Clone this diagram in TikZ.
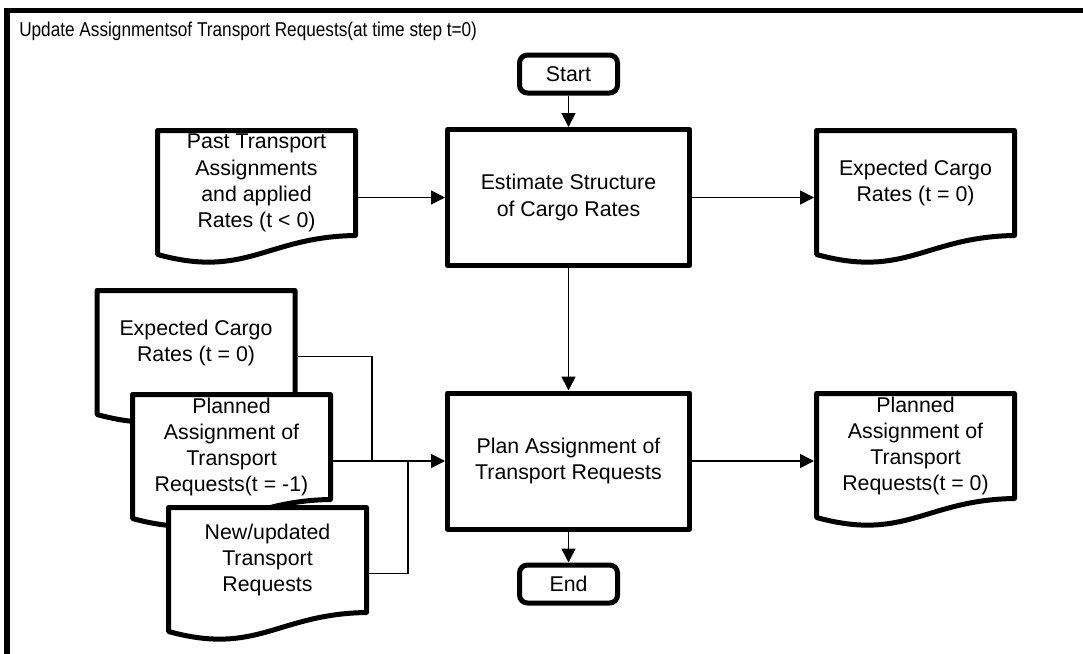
\documentclass[tikz,border=0pt]{standalone}
\usepackage{fontspec}
\setmainfont{Liberation Sans}
\newfontfamily\titlefont[FakeStretch=0.86]{Liberation Sans}
\usetikzlibrary{arrows.meta,calc}
\newcommand\docshape[4]{%
  \filldraw[docline] ({#2-99},{#3-52.5}) -- ({#2+99},{#3-52.5}) -- ({#2+99},{#3+52.5})
    .. controls ({#2+9.9},{#3+53.8}) and ({#2-9.9},{#3+96}) .. ({#2-99},{#3+71.5}) -- cycle;
  \node[doctext] (#1) at (#2,#3) {#4};}
\tikzset{
  thick line/.style={line width=3.75pt, line join=round},
  docline/.style={thick line, draw=black, fill=white},
  bodyfont/.style={font=\fontsize{16}{19.7}\selectfont},
  doctext/.style={draw=none, minimum width=198*0.75pt, minimum height=105*0.75pt,
    outer sep=1.875pt, align=center, inner sep=0pt, bodyfont},
  process/.style={draw, thick line, fill=white, minimum width=242*0.75pt,
    minimum height=136*0.75pt, align=center, inner sep=0pt, bodyfont},
  terminal/.style={draw, thick line, fill=white, rounded corners=6pt,
    minimum width=98*0.75pt, minimum height=38*0.75pt, inner sep=0pt, bodyfont},
  arr/.style={line width=1.3pt, -{Triangle[length=10.5pt,width=10.5pt]}},
  conn/.style={line width=1pt},
}
\begin{document}
\begin{tikzpicture}[x=0.75pt,y=-0.75pt]
\useasboundingbox (0,0) rectangle (1083,654);
\clip (0,0) rectangle (1083,654);
\fill[white] (0,0) rectangle (1083,654);
% frame
\draw[line width=4pt] (7,720) -- (7,10.5) -- (1120,10.5);
\node[anchor=west, inner sep=0pt, font=\titlefont\fontsize{15}{18}\selectfont] (title) at (19,31)
  {Update Assignmentsof Transport Requests(at time step t=0)};
% process nodes
\node[terminal] (start) at (568.5,74) {Start};
\node[process] (est) at (568.5,197.5) {Estimate Structure\\of Cargo Rates};
\node[process] (plan) at (568.5,461) {Plan Assignment of\\Transport Requests};
\node[terminal] (end) at (568.5,584) {End};
% documents
\docshape{past}{256.5}{183}{Past Transport\\Assignments\\and applied\\Rates (t < 0)}
\docshape{expR}{915.5}{183}{Expected Cargo\\Rates (t = 0)}
\docshape{planR}{915.5}{446}{Planned\\Assignment of\\Transport\\Requests(t = 0)}
\docshape{expL}{196}{343}{Expected Cargo\\Rates (t = 0)}
\docshape{planL}{231.5}{447}{Planned\\Assignment of\\Transport\\Requests(t = -1)}
\docshape{newU}{267.5}{560}{New/updated\\Transport\\Requests}
% junctions
\coordinate (j1) at (372,461);
\coordinate (j2) at (408,461);
% connectors
\draw[arr] (start.south) -- (est.north);
\draw[arr] (est.south) -- (plan.north);
\draw[arr] (plan.south) -- (end.north);
\draw[arr] (past.east |- est.west) -- (est.west);
\draw[arr] (est.east) -- (expR.west |- est.east);
\draw[arr] (plan.east) -- (planR.west |- plan.east);
\draw[conn] ($(expL.east)+(0,13.5)$) -| (j1);
\draw[conn] ($(newU.east)+(0,13.5)$) -| (j2);
\draw[arr] (planL.east |- plan.west) -- (plan.west);
\end{tikzpicture}
\end{document}
